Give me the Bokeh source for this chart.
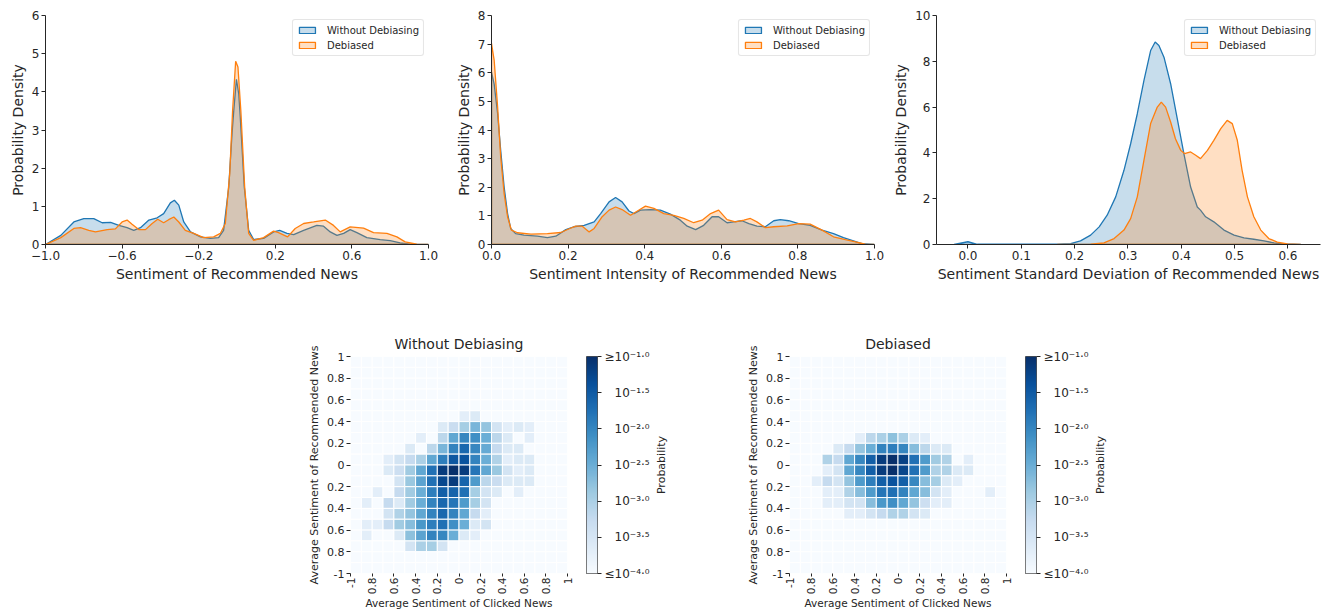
import math
import numpy as np
from bokeh.plotting import figure
from bokeh.models import Range1d, FixedTicker, Legend, LegendItem, LinearColorMapper, Spacer, ColumnDataSource
from bokeh.layouts import row, column
from bokeh.palettes import Blues256
from bokeh.core.properties import value
from bokeh.embed import file_html
from bokeh.resources import INLINE

# ---------------- data: KDE curves ----------------
sent_x_wo = [-1.0, -0.92, -0.852, -0.8, -0.748, -0.704, -0.66, -0.617, -0.574, -0.539, -0.504, -0.46, -0.417,
             -0.383, -0.348, -0.327, -0.304, -0.278, -0.243, -0.191, -0.139, -0.096, -0.07, -0.043, -0.026,
             -0.017, -0.003, 0.009, 0.017, 0.038, 0.061, 0.087, 0.139, 0.191, 0.223, 0.261, 0.296, 0.348, 0.417,
             0.452, 0.487, 0.522, 0.557, 0.591, 0.626, 0.678, 0.748, 0.8, 0.852, 0.904, 1.0]
sent_y_wo = [0, 0.24, 0.59, 0.68, 0.68, 0.57, 0.58, 0.5, 0.44, 0.37, 0.44, 0.64, 0.70,
             0.81, 1.09, 1.16, 1.03, 0.59, 0.33, 0.2, 0.16, 0.18, 0.37, 1.51, 2.9,
             3.5, 4.33, 3.95, 3.34, 1.51, 0.37, 0.13, 0.16, 0.33, 0.37, 0.29, 0.26, 0.37, 0.5,
             0.48, 0.33, 0.24, 0.29, 0.39, 0.31, 0.18, 0.13, 0.1, 0.04, 0.01, 0]
sent_x_db = [-1.0, -0.92, -0.852, -0.817, -0.774, -0.739, -0.678, -0.635, -0.6, -0.574, -0.548, -0.513, -0.478,
             -0.443, -0.414, -0.383, -0.357, -0.33, -0.304, -0.27, -0.226, -0.174, -0.122, -0.087, -0.061,
             -0.038, -0.023, -0.007, 0.005, 0.02, 0.04, 0.061, 0.087, 0.139, 0.191, 0.217, 0.264, 0.304,
             0.348, 0.4, 0.461, 0.504, 0.539, 0.591, 0.661, 0.713, 0.783, 0.835, 0.878, 0.939, 1.0]
sent_y_db = [0, 0.18, 0.42, 0.44, 0.37, 0.33, 0.39, 0.41, 0.59, 0.64, 0.53, 0.39, 0.39,
             0.55, 0.66, 0.57, 0.65, 0.72, 0.59, 0.37, 0.29, 0.18, 0.2, 0.29, 0.55,
             1.86, 3.51, 4.8, 4.65, 3.51, 1.51, 0.29, 0.11, 0.18, 0.35, 0.31, 0.2, 0.42,
             0.55, 0.59, 0.64, 0.5, 0.33, 0.46, 0.43, 0.31, 0.29, 0.2, 0.07, 0.01, 0]

int_x_wo = [0.0, 0.007, 0.016, 0.024, 0.033, 0.042, 0.05, 0.063, 0.085, 0.12, 0.146, 0.168, 0.194, 0.215,
            0.242, 0.268, 0.285, 0.307, 0.324, 0.341, 0.359, 0.372, 0.389, 0.415, 0.441, 0.467, 0.493,
            0.511, 0.533, 0.554, 0.576, 0.593, 0.615, 0.632, 0.654, 0.672, 0.693, 0.715, 0.737, 0.754,
            0.776, 0.802, 0.832, 0.863, 0.893, 0.919, 0.945, 0.967, 1.0]
int_y_wo = [6.02, 5.6, 4.57, 3.29, 2.01, 1.08, 0.56, 0.38, 0.33, 0.29, 0.24, 0.29, 0.52, 0.62,
            0.67, 0.79, 1.08, 1.49, 1.64, 1.49, 1.17, 1.08, 1.2, 1.22, 1.2, 1.06, 0.85,
            0.64, 0.52, 0.67, 0.97, 0.97, 0.76, 0.79, 0.83, 0.73, 0.64, 0.62, 0.83, 0.87,
            0.83, 0.73, 0.67, 0.5, 0.38, 0.24, 0.13, 0.03, 0]
int_x_db = [0.0, 0.007, 0.016, 0.024, 0.033, 0.042, 0.052, 0.068, 0.103, 0.146, 0.181, 0.203, 0.22, 0.237,
            0.255, 0.268, 0.289, 0.307, 0.324, 0.341, 0.363, 0.381, 0.402, 0.424, 0.45, 0.476, 0.502,
            0.528, 0.55, 0.572, 0.593, 0.615, 0.637, 0.659, 0.676, 0.693, 0.715, 0.737, 0.772, 0.802,
            0.832, 0.863, 0.893, 0.924, 0.95, 0.976, 1.0]
int_y_db = [7.03, 6.43, 4.8, 3.06, 1.78, 0.97, 0.5, 0.41, 0.36, 0.38, 0.42, 0.55, 0.64, 0.64,
            0.44, 0.56, 0.97, 1.2, 1.31, 1.22, 1.02, 1.17, 1.34, 1.26, 1.08, 1.02, 0.91,
            0.76, 0.85, 1.08, 1.2, 0.87, 0.79, 0.85, 0.91, 0.79, 0.59, 0.62, 0.65, 0.73,
            0.71, 0.5, 0.27, 0.17, 0.09, 0.01, 0]

std_x_wo = [-0.026, 0.0, 0.0175, 0.0425, 0.105, 0.1675, 0.1925, 0.211, 0.23, 0.246, 0.261, 0.277, 0.2925,
            0.305, 0.3175, 0.33, 0.3425, 0.351, 0.358, 0.3675, 0.38, 0.3925, 0.405, 0.4175, 0.43, 0.436,
            0.4456, 0.461, 0.48, 0.499, 0.5175, 0.536, 0.555, 0.574, 0.5925, 0.624]
std_y_wo = [0, 0.12, 0.01, 0.01, 0.01, 0.01, 0.04, 0.16, 0.41, 0.77, 1.28, 2.08, 3.24,
            4.4, 5.71, 7.17, 8.47, 8.84, 8.69, 8.18, 7.02, 5.49, 3.95, 2.51, 1.64, 1.5,
            1.21, 0.99, 0.63, 0.41, 0.29, 0.23, 0.16, 0.07, 0.03, 0]
std_x_db = [0.1675, 0.23, 0.255, 0.274, 0.2925, 0.305, 0.3175, 0.33, 0.3425, 0.355, 0.3625, 0.3706, 0.38,
            0.389, 0.399, 0.406, 0.4175, 0.427, 0.436, 0.449, 0.461, 0.474, 0.486, 0.4956, 0.505, 0.514,
            0.524, 0.536, 0.549, 0.564, 0.58, 0.599, 0.624]
std_y_db = [0, 0.01, 0.07, 0.26, 0.63, 1.13, 2.08, 3.68, 5.28, 6.0, 6.22, 6.0, 5.35,
            4.62, 4.11, 3.97, 4.04, 3.9, 3.75, 4.11, 4.55, 5.06, 5.42, 5.28, 4.55, 3.24,
            2.08, 1.21, 0.63, 0.26, 0.1, 0.03, 0]

series_labels = ["Without Debiasing", "Debiased"]

# ---------------- data: heatmaps, log10(probability), rows top (1.0) -> bottom (-1.0) ----------------
bin_centers = [-0.95, -0.85, -0.75, -0.65, -0.55, -0.45, -0.35, -0.25, -0.15, -0.05,
               0.05, 0.15, 0.25, 0.35, 0.45, 0.55, 0.65, 0.75, 0.85, 0.95]

heat_without = [
    [-4, -4, -4, -4, -4, -4, -4, -4, -4, -4, -4, -4, -4, -4, -4, -4, -4, -4, -4, -4],
    [-4, -4, -4, -4, -4, -4, -4, -4, -4, -4, -4, -4, -4, -4, -4, -4, -4, -4, -4, -4],
    [-4, -4, -4, -4, -4, -4, -4, -4, -4, -4, -4, -4, -4, -4, -4, -4, -4, -4, -4, -4],
    [-4, -4, -4, -4, -4, -4, -4, -4, -4, -4, -4, -4, -4, -4, -4, -4, -4, -4, -4, -4],
    [-4, -4, -4, -4, -4, -4, -4, -4, -4, -4, -4, -4, -4, -4, -4, -4, -4, -4, -4, -4],
    [-4, -4, -4, -4, -4, -4, -4, -4, -4, -4, -3.7, -3.6, -4, -4, -4, -4, -4, -4, -4, -4],
    [-4, -4, -4, -4, -4, -4, -4, -4, -3.6, -3.3, -2.95, -2.6, -2.8, -3.45, -3.7, -3.6, -3.7, -4, -4, -4],
    [-4, -4, -4, -4, -4, -4, -3.7, -4, -3.15, -2.4, -2.0, -2.1, -2.5, -3.15, -3.6, -4, -3.7, -4, -4, -4],
    [-4, -4, -4, -4, -4, -3.6, -4, -3.15, -2.6, -1.95, -1.65, -2.0, -2.45, -3.25, -3.6, -3.6, -4, -4, -4, -4],
    [-4, -4, -4, -3.7, -3.45, -3.25, -3.0, -2.4, -1.9, -1.45, -1.4, -1.95, -2.5, -3.05, -3.7, -3.6, -3.6, -4, -4, -4],
    [-4, -4, -4, -3.6, -3.35, -2.9, -2.4, -1.75, -1.15, -1.0, -1.15, -1.8, -2.4, -2.85, -3.45, -3.7, -3.6, -4, -4, -4],
    [-4, -4, -4, -4, -3.45, -2.85, -2.35, -1.75, -1.27, -1.15, -1.6, -2.25, -3.15, -3.3, -3.6, -3.6, -3.6, -4, -4, -4],
    [-4, -4, -3.7, -4, -3.25, -2.9, -2.5, -1.9, -1.55, -1.6, -1.75, -2.95, -3.45, -3.6, -4, -3.7, -4, -4, -4, -4],
    [-4, -3.7, -4, -3.25, -3.6, -2.9, -2.5, -1.95, -1.65, -1.8, -2.25, -2.95, -3.45, -4, -4, -4, -4, -4, -4, -4],
    [-4, -4, -4, -3.45, -3.05, -2.8, -2.4, -1.95, -1.65, -1.95, -2.4, -3.25, -3.7, -4, -4, -4, -4, -4, -4, -4],
    [-4, -3.7, -3.7, -3.25, -2.9, -2.7, -2.2, -1.9, -1.75, -2.1, -2.5, -3.6, -3.45, -4, -4, -4, -4, -4, -4, -4],
    [-4, -3.7, -4, -4, -3.6, -2.75, -2.35, -1.95, -2.0, -2.5, -3.6, -3.7, -4, -4, -4, -4, -4, -4, -4, -4],
    [-4, -4, -4, -4, -4, -3.45, -3.0, -2.95, -3.45, -4, -4, -4, -4, -4, -4, -4, -4, -4, -4, -4],
    [-4, -4, -4, -4, -4, -4, -4, -4, -4, -4, -4, -4, -4, -4, -4, -4, -4, -4, -4, -4],
    [-4, -4, -4, -4, -4, -4, -4, -4, -4, -4, -4, -4, -4, -4, -4, -4, -4, -4, -4, -4],
]

heat_debiased = [
    [-4, -4, -4, -4, -4, -4, -4, -4, -4, -4, -4, -4, -4, -4, -4, -4, -4, -4, -4, -4],
    [-4, -4, -4, -4, -4, -4, -4, -4, -4, -4, -4, -4, -4, -4, -4, -4, -4, -4, -4, -4],
    [-4, -4, -4, -4, -4, -4, -4, -4, -4, -4, -4, -4, -4, -4, -4, -4, -4, -4, -4, -4],
    [-4, -4, -4, -4, -4, -4, -4, -4, -4, -4, -4, -4, -4, -4, -4, -4, -4, -4, -4, -4],
    [-4, -4, -4, -4, -4, -4, -4, -4, -4, -4, -4, -4, -4, -4, -4, -4, -4, -4, -4, -4],
    [-4, -4, -4, -4, -4, -4, -4, -4, -4, -4, -4, -4, -4, -4, -4, -4, -4, -4, -4, -4],
    [-4, -4, -4, -4, -4, -4, -4, -4, -4, -4, -4, -4, -4, -4, -4, -4, -4, -4, -4, -4],
    [-4, -4, -4, -4, -4, -4, -3.7, -3.15, -3.0, -2.75, -3.0, -3.6, -3.7, -4, -4, -4, -4, -4, -4, -4],
    [-4, -4, -4, -4, -3.6, -3.25, -2.8, -2.5, -1.95, -1.9, -2.0, -2.7, -3.15, -3.6, -3.6, -4, -4, -4, -4, -4],
    [-4, -4, -4, -3.05, -3.25, -2.4, -2.0, -1.55, -1.15, -1.0, -1.2, -1.75, -2.25, -2.9, -3.05, -4, -3.7, -4, -4, -4],
    [-4, -4, -4, -3.7, -3.45, -2.4, -2.0, -1.55, -1.15, -1.0, -1.25, -1.75, -2.25, -3.05, -3.05, -3.6, -3.6, -4, -4, -4],
    [-4, -4, -3.7, -3.25, -3.45, -2.8, -2.25, -1.9, -1.55, -1.4, -1.55, -2.0, -2.7, -2.95, -3.6, -3.7, -4, -4, -4, -4],
    [-4, -4, -4, -3.7, -3.7, -3.05, -2.7, -2.25, -1.8, -1.75, -1.95, -2.4, -2.7, -3.45, -3.7, -4, -4, -4, -3.7, -4],
    [-4, -4, -4, -3.7, -3.7, -3.45, -3.45, -2.7, -2.2, -2.1, -2.4, -2.8, -3.35, -3.7, -3.7, -4, -4, -4, -4, -4],
    [-4, -4, -4, -4, -4, -3.7, -3.7, -3.45, -3.25, -3.05, -3.05, -3.45, -3.6, -4, -4, -4, -4, -4, -4, -4],
    [-4, -4, -4, -4, -4, -4, -4, -4, -4, -4, -4, -4, -4, -4, -4, -4, -4, -4, -4, -4],
    [-4, -4, -4, -4, -4, -4, -4, -4, -4, -4, -4, -4, -4, -4, -4, -4, -4, -4, -4, -4],
    [-4, -4, -4, -4, -4, -4, -4, -4, -4, -4, -4, -4, -4, -4, -4, -4, -4, -4, -4, -4],
    [-4, -4, -4, -4, -4, -4, -4, -4, -4, -4, -4, -4, -4, -4, -4, -4, -4, -4, -4, -4],
    [-4, -4, -4, -4, -4, -4, -4, -4, -4, -4, -4, -4, -4, -4, -4, -4, -4, -4, -4, -4],
]

heat_ticks = [-1, -0.8, -0.6, -0.4, -0.2, 0, 0.2, 0.4, 0.6, 0.8, 1]
heat_tick_labels = ["-1", "0.8", "0.6", "0.4", "0.2", "0", "0.2", "0.4", "0.6", "0.8", "1"]

cbar_levels = [-4.0, -3.5, -3.0, -2.5, -2.0, -1.5, -1.0]
cbar_labels = ["\u226410\u207b\u2074\u00b7\u2070",
               "\u2007\u200910\u207b\u00b3\u00b7\u2075",
               "\u2007\u200910\u207b\u00b3\u00b7\u2070",
               "\u2007\u200910\u207b\u00b2\u00b7\u2075",
               "\u2007\u200910\u207b\u00b2\u00b7\u2070",
               "\u2007\u200910\u207b\u00b9\u00b7\u2075",
               "\u226510\u207b\u00b9\u00b7\u2070"]

# ---------------- styling ----------------
FONT = "DejaVu Sans"
TXT = "#262626"
BLUE = "#1f77b4"
ORANGE = "#ff7f0e"
PALETTE = list(Blues256)[::-1]


def style_axes(p, tick_size, label_size):
    for ax in p.axis:
        ax.axis_line_color = TXT
        ax.axis_line_width = 1
        ax.major_tick_line_color = TXT
        ax.major_tick_line_width = 1
        ax.major_tick_out = 4
        ax.major_tick_in = 0
        ax.minor_tick_line_color = None
        ax.major_label_text_font = FONT
        ax.major_label_text_font_size = tick_size
        ax.major_label_text_color = TXT
        ax.major_label_standoff = 2
        ax.axis_label_text_font = FONT
        ax.axis_label_text_font_size = label_size
        ax.axis_label_text_font_style = "normal"
        ax.axis_label_text_color = TXT


def kde_fig(width, left, right, xr, yr, xticks, xlabels, yticks, xlabel, wo, db):
    p = figure(width=width, height=286, x_range=Range1d(*xr), y_range=Range1d(*yr),
               output_backend="svg", toolbar_location=None,
               min_border_left=left, min_border_right=right, min_border_top=15, min_border_bottom=42)
    p.outline_line_color = None
    p.grid.visible = False
    rends = []
    for (xs, ys), col in ((wo, BLUE), (db, ORANGE)):
        px = [xs[0]] + list(xs) + [xs[-1]]
        py = [0] + list(ys) + [0]
        r = p.patch(px, py, fill_color=col, fill_alpha=0.25, line_color=col, line_width=1.3)
        rends.append(r)
    style_axes(p, "12px", "14px")
    p.xaxis.ticker = FixedTicker(ticks=xticks)
    p.xaxis.major_label_overrides = dict(zip(xticks, xlabels))
    p.yaxis.ticker = FixedTicker(ticks=yticks)
    p.xaxis.axis_label = xlabel
    p.yaxis.axis_label = "Probability Density"
    p.xaxis.axis_label_standoff = 3
    p.yaxis.axis_label_standoff = 3
    leg = Legend(items=[LegendItem(label=series_labels[0], renderers=[rends[0]]),
                        LegendItem(label=series_labels[1], renderers=[rends[1]])],
                 location="top_right")
    leg.label_text_font = FONT
    leg.label_text_font_size = "10px"
    leg.label_text_color = TXT
    leg.glyph_width = 20
    leg.glyph_height = 8
    leg.label_height = 12
    leg.label_standoff = 10
    leg.spacing = 3
    leg.padding = 4
    leg.margin = 4
    leg.border_line_color = "#cccccc"
    leg.border_line_width = 1
    leg.background_fill_alpha = 0.85
    try:
        leg.border_radius = 3
    except (AttributeError, ValueError):
        pass
    p.add_layout(leg)
    return p


f1 = kde_fig(446, 45, 18, (-1, 1), (0, 6), [-1.0, -0.6, -0.2, 0.2, 0.6, 1.0],
             ["\u22121.0", "\u22120.6", "\u22120.2", "0.2", "0.6", "1.0"], [0, 1, 2, 3, 4, 5, 6],
             "Sentiment of Recommended News", (sent_x_wo, sent_y_wo), (sent_x_db, sent_y_db))
f2 = kde_fig(444, 45, 16, (0, 1), (0, 8), [0.0, 0.2, 0.4, 0.6, 0.8, 1.0],
             ["0.0", "0.2", "0.4", "0.6", "0.8", "1.0"], [0, 1, 2, 3, 4, 5, 6, 7, 8],
             "Sentiment Intensity of Recommended News", (int_x_wo, int_y_wo), (int_x_db, int_y_db))
f3 = kde_fig(435, 45, 5, (-0.059, 0.661), (0, 10), [0.0, 0.1, 0.2, 0.3, 0.4, 0.5, 0.6],
             ["0.0", "0.1", "0.2", "0.3", "0.4", "0.5", "0.6"], [0, 2, 4, 6, 8, 10],
             "Sentiment Standard Deviation of Recommended News", (std_x_wo, std_y_wo), (std_x_db, std_y_db))

HEAT_H = 326
HEAT_TOP = 70
HEAT_BOTTOM = 38


def heat_fig(title, grid):
    xs, ys, vs = [], [], []
    for r, rowvals in enumerate(grid):
        for c, v in enumerate(rowvals):
            xs.append(bin_centers[c])
            ys.append(bin_centers[19 - r])
            vs.append(v)
    src = ColumnDataSource(dict(x=xs, y=ys, v=vs))
    mapper = LinearColorMapper(palette=PALETTE, low=-4, high=-1)
    p = figure(width=272, height=HEAT_H, x_range=Range1d(-1, 1), y_range=Range1d(-1, 1),
               output_backend="svg", toolbar_location=None, title=title,
               min_border_left=44, min_border_right=10, min_border_top=HEAT_TOP, min_border_bottom=HEAT_BOTTOM)
    p.outline_line_color = None
    p.grid.visible = False
    p.rect(x="x", y="y", width=0.1, height=0.1, source=src,
           fill_color={"field": "v", "transform": mapper}, line_color="white", line_width=1)
    style_axes(p, "11px", "11px")
    for ax in p.axis:
        ax.axis_line_color = None
        ax.ticker = FixedTicker(ticks=heat_ticks)
        ax.major_label_overrides = dict(zip(heat_ticks, heat_tick_labels))
        ax.axis_label_standoff = 3
    xa = p.xaxis[0]
    xa.major_label_orientation = math.pi / 2
    xa.major_tick_out = 3
    xa.major_label_standoff = 1
    xa.major_label_text_font_size = "10.5px"
    xa.axis_label_standoff = 0
    xa.axis_label_text_font_size = "10.5px"
    p.xaxis.axis_label = "Average Sentiment of Clicked News"
    p.yaxis.axis_label = "Average Sentiment of Recommended News"
    p.title.align = "center"
    p.title.text_font = FONT
    p.title.text_font_size = "14px"
    p.title.text_font_style = "normal"
    p.title.text_color = TXT
    return p


def cbar_fig():
    mapper = LinearColorMapper(palette=PALETTE, low=-4, high=-1)
    p = figure(width=75, height=HEAT_H, x_range=Range1d(0, 1), y_range=Range1d(-4, -1),
               output_backend="svg", toolbar_location=None,
               x_axis_location=None, y_axis_location="right",
               min_border_left=9, min_border_right=55,
               min_border_top=HEAT_TOP, min_border_bottom=HEAT_BOTTOM)
    p.outline_line_color = TXT
    p.outline_line_width = 0.8
    p.grid.visible = False
    grad = np.linspace(-4, -1, 256).reshape(256, 1)
    p.image(image=[grad], x=0, y=-4, dw=1, dh=3, color_mapper=mapper)
    ax = p.yaxis[0]
    ax.ticker = FixedTicker(ticks=cbar_levels)
    ax.major_label_overrides = dict(zip(cbar_levels, cbar_labels))
    ax.axis_line_color = None
    ax.major_tick_line_color = TXT
    ax.major_tick_out = 4
    ax.major_tick_in = 0
    ax.minor_tick_line_color = None
    ax.major_label_standoff = 3
    ax.major_label_text_font = FONT
    ax.major_label_text_font_size = "12px"
    ax.major_label_text_color = TXT
    return p


def prob_label_fig():
    p = figure(width=20, height=HEAT_H, x_range=Range1d(0, 1), y_range=Range1d(-4, -1),
               output_backend="svg", toolbar_location=None,
               x_axis_location=None, y_axis_location=None,
               min_border_left=0, min_border_right=0,
               min_border_top=HEAT_TOP, min_border_bottom=HEAT_BOTTOM)
    p.outline_line_color = None
    p.grid.visible = False
    p.text(x=[0.45], y=[-2.5], text=["Probability"], angle=math.pi / 2, text_align="center",
           text_baseline="middle", text_font=value(FONT), text_font_size="11px", text_color=TXT)
    return p


h1 = heat_fig("Without Debiasing", heat_without)
c1 = cbar_fig()
l1 = prob_label_fig()
h2 = heat_fig("Debiased", heat_debiased)
c2 = cbar_fig()
l2 = prob_label_fig()

layout = column(
    row(f1, f2, f3),
    row(Spacer(width=305, height=HEAT_H), h1, c1, l1, Spacer(width=72, height=HEAT_H), h2, c2, l2),
)

open("out.html", "w").write(file_html(layout, INLINE, "chart"))
